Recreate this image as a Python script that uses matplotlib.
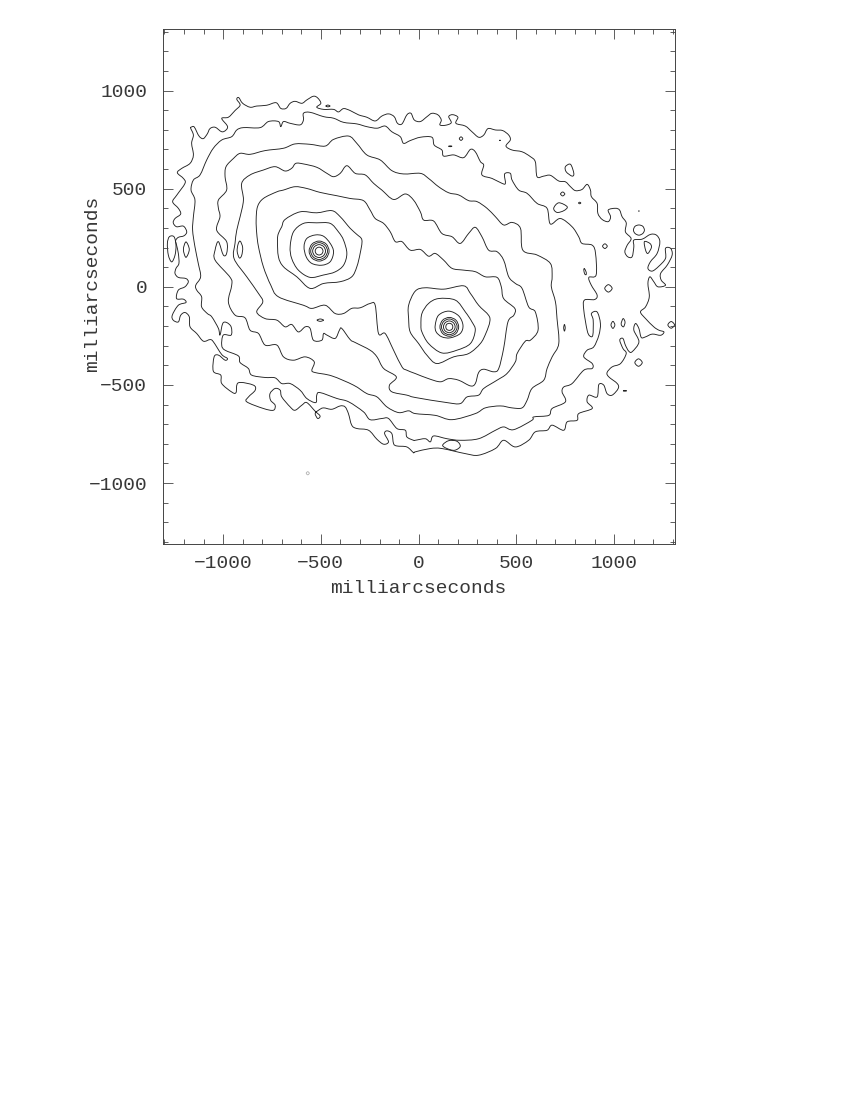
import numpy as np
import matplotlib
matplotlib.use('Agg')
import matplotlib.pyplot as plt
from matplotlib.path import Path
from matplotlib.patches import PathPatch

plt.rcParams['font.family'] = ['Liberation Mono', 'DejaVu Sans']

# contour levels, milliarcseconds (x, y)
level_1 = [(-1164,813),(-1149,816),(-1135,790),(-1121,765),(-1101,755),(-1081,779),(-1067,806),(-1041,813),(-1007,790),(-985,799),(-978,819),(-1007,858),(-973,864),(-939,898),(-913,926),(-930,955),(-920,964),(-900,935),(-862,915),(-828,921),(-777,925),(-729,938),(-705,909),(-678,909),(-657,935),(-632,945),(-597,935),(-572,952),(-538,971),(-516,962),(-500,935),(-521,915),(-486,904),(-435,904),(-410,891),(-384,908),(-350,898),(-307,876),(-265,864),(-222,845),(-188,870),(-154,881),(-125,867),(-108,833),(-85,830),(-60,876),(-39,884),(-22,850),(9,842),
    (43,867),(68,884),(99,876),(116,850),(109,825),(137,823),(167,836),(154,867),(174,877),(201,864),(191,833),(239,819),(273,790),(307,762),(333,773),(355,806),(393,799),(430,796),(461,773),(469,748),(447,717),(478,697),(529,688),(572,663),(597,637),(606,561),(640,564),(674,568),(717,539),(751,535),(777,510),(802,490),(836,496),(862,522),(879,493),(884,459),(913,425),(917,374),(939,343),(970,332),(982,357),(970,391),(1007,400),(1028,391),(1041,357),(1062,326),
    (1058,280),(1087,246),(1067,212),(1055,178),(1070,153),(1092,153),(1101,204),(1101,238),(1144,243),(1186,267),(1217,263),(1234,230),(1220,170),(1186,128),(1173,94),(1195,80),(1229,105),(1263,145),(1263,196),(1289,196),(1297,162),(1272,111),(1238,68),(1241,34),(1263,8),(1224,0),(1203,26),(1183,51),(1173,17),(1180,-51),(1161,-102),(1135,-128),(1161,-162),(1203,-204),(1229,-221),(1255,-230),(1238,-247),(1195,-241),(1161,-255),(1139,-258),(1127,-213),(1110,-187),(1101,-221),(1127,-281),
    (1092,-331),(1075,-328),(1058,-298),(1045,-263),(1029,-272),(1045,-314),(1062,-340),(1033,-391),(990,-408),(964,-437),(973,-459),(1016,-493),(1021,-518),(990,-552),(964,-544),(947,-501),(922,-498),(913,-561),(871,-552),(862,-586),(888,-620),(819,-646),(811,-680),(760,-688),(742,-731),(683,-705),(657,-731),(597,-739),(563,-782),(495,-816),(435,-782),(393,-824),(307,-858),(239,-850),(119,-824),(60,-824),(-17,-841),
    (-26,-845),(-60,-816),(-111,-811),(-128,-799),(-137,-748),(-162,-734),(-174,-748),(-154,-790),(-179,-802),(-213,-777),(-256,-731),(-316,-722),(-342,-705),(-359,-646),(-376,-612),(-401,-607),(-444,-624),(-487,-617),(-512,-629),(-529,-646),(-516,-671),(-504,-658),(-529,-634),(-572,-590),(-597,-603),(-632,-629),(-657,-612),(-700,-561),(-708,-527),(-734,-518),(-760,-544),(-757,-578),(-734,-603),(-743,-629),(-794,-620),(-879,-586),(-870,-561),(-836,-527),(-845,-501),(-922,-489),(-934,-539),(-956,-536),(-1007,-493),(-1012,-450),(-1050,-430),(-1046,-357),(-1024,-348),(-990,-374),(-978,-365),(-1007,-345),(-1050,-280),(-1067,-269),(-1101,-277),(-1135,-238),(-1169,-204),(-1173,-153),(-1195,-131),(-1217,-145),(-1229,-179),(-1255,-170),(-1260,-145),(-1229,-94),(-1190,-80),(-1203,-63),(-1238,-60),(-1229,-17),(-1195,0),
    (-1178,25),(-1190,42),(-1229,48),(-1246,68),(-1241,94),(-1226,119),(-1229,170),(-1238,212),(-1243,235),(-1229,252),(-1200,260),(-1186,280),(-1203,309),(-1238,306),(-1255,326),(-1246,348),(-1217,371),(-1229,400),(-1258,433),(-1237,467),(-1195,527),(-1203,552),(-1234,581),(-1212,603),(-1169,629),(-1152,671),(-1161,731),(-1152,773),(-1166,808)]

level_2 = [(-1152,544),(-1118,570),(-1084,646),(-1050,706),(-1007,748),(-956,765),(-930,799),(-896,811),(-811,811),(-768,842),(-717,842),(-705,816),(-691,842),(-657,833),(-606,825),(-589,850),(-589,884),(-555,889),(-486,867),(-435,859),(-384,838),(-316,830),(-265,816),(-213,808),(-171,819),(-137,790),(-94,765),(-77,731),(-43,745),(9,762),
    (68,762),(80,722),(119,697),(128,666),(179,672),(230,658),(265,700),(290,688),(316,638),(333,620),(324,570),(376,552),(427,527),(444,527),(440,575),(469,578),(478,544),(512,493),(555,476),(606,425),(657,400),(674,320),(725,348),(785,306),(819,255),(836,221),(888,212),(905,170),(908,60),(871,48),(883,9),(913,-42),(900,-65),(848,-68),(845,-119),(862,-221),(875,-250),(891,-247),(893,-170),(884,-136),(913,-128),(930,-187),(922,-247),(896,-306),
    (862,-323),(845,-357),(888,-391),(888,-416),(845,-425),(785,-493),(743,-510),(734,-536),(751,-586),(683,-620),(666,-655),(589,-663),(580,-680),(486,-728),(435,-714),(393,-731),(307,-774),(213,-782),(145,-774),(77,-760),(60,-790),(34,-774),(-17,-782),
    (-26,-782),(-60,-765),(-68,-731),(-111,-722),(-154,-671),(-188,-671),(-248,-677),(-282,-637),(-358,-586),(-418,-569),(-504,-539),(-521,-552),(-526,-590),(-572,-569),(-606,-527),(-657,-493),(-700,-493),(-734,-464),(-785,-462),(-854,-450),(-871,-416),(-913,-386),(-922,-352),(-990,-323),(-1007,-298),(-999,-246),(-959,-246),(-959,-204),(-982,-182),(-1002,-187),(-1016,-246),(-1024,-212),(-1058,-153),(-1081,-136),(-1110,-102),(-1110,-51),(-1135,-17),(-1140,8),
    (-1115,51),(-1127,119),(-1144,204),(-1156,289),(-1152,357),(-1144,442),(-1164,493)]

level_3 = [(-985,612),(-947,654),(-913,680),(-862,675),(-785,694),(-691,706),(-632,728),(-555,726),(-478,717),(-435,751),(-358,768),(-316,731),(-265,672),(-196,646),(-137,592),(-77,575),(9,578),
    (51,552),(102,510),(154,479),(205,468),(256,439),(299,434),(350,400),(393,357),(435,315),(478,328),(521,298),(533,187),(606,162),(674,119),(683,51),(679,0),
    (700,-77),(708,-162),(717,-289),(683,-357),(657,-417),(640,-476),(580,-518),(555,-578),(529,-617),(478,-617),(418,-607),(341,-617),(290,-646),(171,-677),(85,-655),(-17,-646),
    (-51,-632),(-102,-641),(-162,-612),(-213,-561),(-265,-544),(-333,-501),(-444,-454),(-529,-437),(-546,-425),(-534,-382),(-580,-357),(-640,-374),(-691,-357),(-725,-297),(-785,-297),(-819,-238),(-862,-221),(-888,-158),(-939,-144),(-973,-77),(-956,8),
    (-964,48),(-1041,136),(-1041,187),(-1024,230),(-999,162),(-982,170),(-982,230),(-1033,289),(-1016,357),(-1024,400),(-1024,442),(-982,493),(-990,561)]

level_4 = [(-905,527),(-862,570),(-794,595),(-734,612),(-683,590),(-649,604),(-628,629),(-589,626),(-521,609),(-469,578),(-435,561),(-401,578),(-367,617),(-324,578),(-273,570),(-230,527),(-188,493),(-128,445),(-68,473),(-26,442),(9,382),
    (26,340),(77,335),(119,272),(171,255),(213,221),(256,272),(290,303),(324,255),(358,187),(401,179),(435,136),(461,51),(495,17),(529,-8),
    (563,-102),(597,-128),(611,-221),(572,-272),(546,-277),(504,-340),(495,-382),(452,-442),(401,-476),(333,-518),(307,-552),(248,-561),(213,-595),(145,-590),(-17,-564),
    (-60,-552),(-137,-535),(-149,-501),(-114,-459),(-179,-416),(-213,-357),(-248,-323),(-324,-284),(-350,-269),(-393,-212),(-405,-221),(-427,-263),(-469,-246),(-486,-238),(-495,-272),(-538,-272),(-555,-212),(-580,-204),(-615,-230),(-649,-192),(-683,-204),(-725,-170),(-785,-162),(-828,-128),(-797,-77),(-819,-34),
    (-879,51),(-944,144),(-939,221),(-930,289),(-913,357),(-896,442)]

level_5 = [(-831,340),(-824,408),(-794,450),(-725,484),(-691,493),(-632,510),(-572,501),(-504,481),(-418,464),(-350,450),(-282,439),(-248,391),(-222,348),(-179,323),(-145,280),(-119,230),(-85,230),(-43,187),
    (9,190),(51,156),(85,170),(128,136),(171,94),(230,85),(290,77),(341,51),(401,48),(423,0),
    (435,-60),(492,-110),(487,-145),(457,-179),(435,-314),(410,-416),(384,-433),(333,-420),(307,-437),(290,-493),(265,-505),(205,-476),(154,-468),(111,-484),(51,-468),(-17,-442),
    (-60,-425),(-85,-408),(-128,-323),(-171,-238),(-205,-238),(-222,-94),(-248,-85),(-299,-107),(-342,-110),(-384,-136),(-427,-136),(-478,-94),(-546,-110),(-589,-94),(-717,-51),(-756,8),
    (-794,102),(-819,204),(-828,272)]

# peak at upper left
peak_a = [
    [(-722,238),(-717,272),(-700,306),(-683,343),(-606,382),(-521,377),(-444,388),(-401,357),(-350,298),(-316,267),(-290,238),(-299,170),(-316,102),(-342,51),(-401,26),(-486,17),(-555,-8),(-623,51),(-691,102),(-717,153)],
    [(-657,204),(-640,280),(-589,323),(-521,326),(-452,323),(-410,280),(-384,238),(-367,170),(-384,110),(-427,76),(-487,60),(-555,48),(-615,85),(-649,144)],
    [(-586,204),(-572,246),(-529,264),(-487,258),(-452,221),(-435,178),(-452,128),(-495,110),(-546,119),(-575,153)],
    [(-560,182),(-545,218),(-509,233),(-473,218),(-458,182),(-473,146),(-509,131),(-545,146)],
    [(-552,182),(-539,212),(-509,225),(-479,212),(-466,182),(-479,152),(-509,139),(-539,152)],
    [(-542,182),(-532,205),(-509,215),(-486,205),(-476,182),(-486,159),(-509,149),(-532,159)],
    [(-529,182),(-523,196),(-509,202),(-495,196),(-489,182),(-495,168),(-509,162),(-523,168)],
]

# peak at lower right
peak_b = [
    [(-51,-94),(-17,-22),(34,-5),(128,-12),(230,5),(265,-34),(307,-94),(358,-145),(364,-179),(345,-235),(316,-289),(256,-340),(179,-357),(94,-391),(43,-349),(0,-289),(-43,-230),(-51,-162)],
    [(12,-196),(17,-136),(51,-85),(102,-60),(188,-68),(239,-128),(273,-179),(290,-221),(265,-289),(196,-323),(119,-337),(51,-289),(17,-230)],
    [(85,-196),(102,-145),(154,-124),(205,-148),(227,-196),(213,-238),(162,-260),(119,-255),(90,-230)],
    [(109,-204),(123,-170),(157,-156),(191,-170),(205,-204),(191,-238),(157,-252),(123,-238)],
    [(117,-204),(129,-176),(157,-164),(185,-176),(197,-204),(185,-232),(157,-244),(129,-232)],
    [(127,-204),(136,-183),(157,-174),(178,-183),(187,-204),(178,-225),(157,-234),(136,-225)],
    [(139,-204),(144,-191),(157,-186),(170,-191),(175,-204),(170,-217),(157,-222),(144,-217)],
]

# small isolated islands
islands = [
    [(-1285,221),(-1275,255),(-1251,255),(-1241,212),(-1246,161),(-1263,127),(-1280,161)],
    [(-1190,229),(-1173,190),(-1190,150),(-1203,190)],
    [(-913,233),(-900,200),(-905,160),(-917,147),(-928,180),(-924,215)],
    [(-520,-170),(-503,-164),(-486,-170),(-503,-176)],
    [(-475,921),(-464,926),(-453,921),(-464,917)],
    [(208,755),(217,764),(226,755),(217,746)],
    [(153,716),(162,718),(171,716),(162,714)],
    [(413,746),(416,747),(419,746),(416,745)],
    [(751,612),(777,624),(794,578),(785,564),(755,586)],
    [(726,473),(737,483),(748,473),(737,463)],
    [(691,400),(717,428),(760,408),(743,388),(708,379)],
    [(818,427),(824,431),(830,427),(824,423)],
    [(1125,386),(1127,387),(1129,386),(1127,385)],
    [(1099,289),(1107,308),(1127,315),(1147,308),(1155,289),(1147,272),(1127,263),(1107,272)],
    [(1155,230),(1183,221),(1191,201),(1173,170),(1161,187)],
    [(941,207),(953,219),(965,207),(953,195)],
    [(845,85),(848,93),(857,75),(857,62),(850,65)],
    [(952,-8),(971,11),(990,-8),(971,-27)],
    [(984,-194),(994,-176),(1004,-194),(994,-212)],
    [(1036,-190),(1046,-162),(1056,-180),(1048,-204)],
    [(1275,-194),(1292,-177),(1309,-194),(1292,-211)],
    [(1106,-386),(1125,-367),(1144,-386),(1125,-405)],
    [(1046,-530),(1055,-528),(1064,-530),(1055,-532)],
    [(742,-209),(746,-192),(750,-209),(746,-226)],
    [(123,-807),(154,-784),(196,-787),(213,-813),(184,-833),(145,-824)],
]

faint_island = [(-575,-950),(-567,-942),(-559,-950),(-567,-958)]

major_ticks = [-1000, -500, 0, 500, 1000]
tick_labels = ['\u22121000', '\u2212500', '0', '500', '1000']
minor_ticks = list(range(-1300, 1400, 100))


def closed_curve(points):
    # smooth closed bezier through the read points
    pts = np.array(points, dtype=float)
    n = len(pts)
    verts = [pts[0]]
    codes = [Path.MOVETO]
    for i in range(n):
        p0, p1, p2, p3 = pts[i - 1], pts[i], pts[(i + 1) % n], pts[(i + 2) % n]
        verts += [p1 + (p2 - p0) / 6, p2 - (p3 - p1) / 6, p2]
        codes += [Path.CURVE4] * 3
    return Path(verts, codes)


fig = plt.figure(figsize=(8.5, 11), dpi=100)
ax = fig.add_axes([162.5 / 850, 1 - 544.3 / 1100, 512.2 / 850, 515 / 1100])

line_color = '#222222'
for contour in [level_1, level_2, level_3, level_4, level_5] + peak_a + peak_b + islands:
    ax.add_patch(PathPatch(closed_curve(contour), fill=False, ec=line_color, lw=0.65))
ax.add_patch(PathPatch(closed_curve(faint_island), fill=False, ec='#b0b0b0', lw=0.6))

ax.set_xlim(-1310, 1310)
ax.set_ylim(-1312, 1312)

text_color = '#383838'
ax.set_xticks(major_ticks)
ax.set_xticklabels(tick_labels)
ax.set_yticks(major_ticks)
ax.set_yticklabels(tick_labels)
ax.set_xticks(minor_ticks, minor=True)
ax.set_yticks(minor_ticks, minor=True)
ax.tick_params(which='major', direction='in', top=True, right=True, length=7.2, width=0.6,
               color='#444444', labelsize=14, labelcolor=text_color)
ax.tick_params(axis='x', which='major', pad=8)
ax.tick_params(axis='y', which='major', pad=11)
ax.tick_params(which='minor', direction='in', top=True, right=True, length=3.6, width=0.6,
               color='#444444')
for spine in ax.spines.values():
    spine.set_linewidth(0.7)
    spine.set_color('#444444')

ax.set_xlabel('milliarcseconds', fontsize=14, color=text_color)
ax.set_ylabel('milliarcseconds', fontsize=14, color=text_color)
ax.xaxis.set_label_coords(0.5, -0.07)
ax.yaxis.set_label_coords(-0.12, 0.505)

fig.savefig('out.png', dpi=100)
